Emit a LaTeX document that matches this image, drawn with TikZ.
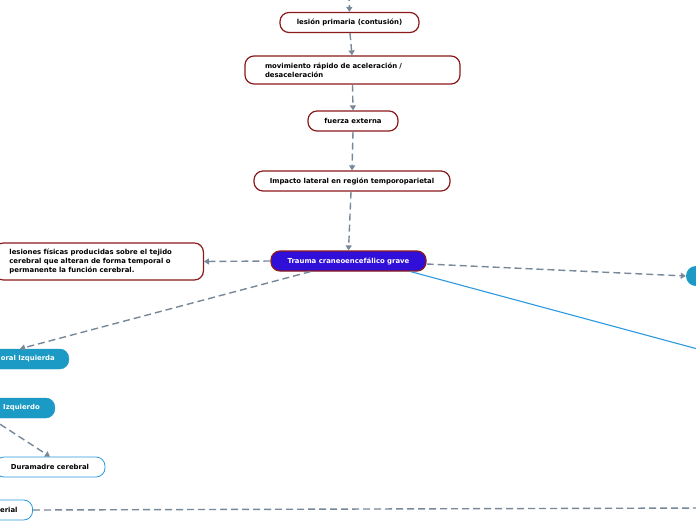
\documentclass[tikz,border=0pt]{standalone}
\usepackage{fontspec}
\setmainfont{DejaVu Sans}
\usetikzlibrary{arrows.meta,calc}
\definecolor{dred}{HTML}{8B1A1A}
\definecolor{tblue}{HTML}{3010D8}
\definecolor{teal2}{HTML}{1A9AC4}
\definecolor{lblue}{HTML}{2B9AE0}
\definecolor{cgray}{HTML}{778899}
\tikzset{
  redbox/.style={draw=dred, line width=1.2pt, rounded corners=9pt, fill=white, font=\fontsize{6.9}{9.2}\selectfont\bfseries, inner ysep=0pt, minimum height=20pt},
  bluebox/.style={redbox, fill=tblue, text=white},
  tealbox/.style={draw=teal2, fill=teal2, rounded corners=9pt, text=white, font=\fontsize{6.9}{9}\selectfont\bfseries, inner ysep=0pt, minimum height=20pt},
  wbox/.style={draw=lblue, line width=0.8pt, fill=white, rounded corners=9pt, font=\fontsize{6.9}{9}\selectfont\bfseries, inner ysep=0pt, minimum height=20pt},
  conn/.style={draw=cgray, line width=1.4pt, dash pattern=on 7pt off 4pt, -{Triangle[length=5pt,width=6pt]}},
  connn/.style={draw=cgray, line width=1.4pt, dash pattern=on 7pt off 4pt},
}
\begin{document}
\begin{tikzpicture}[x=1pt,y=-1pt]
\useasboundingbox (0,0) rectangle (696,520);
\fill[white] (0,0) rectangle (696,520);
\node[redbox, minimum width=139pt] (lesion) at (349.5,22.5) {lesión primaria (contusión)};
\node[redbox, minimum width=215pt, minimum height=28pt, text width=175pt, align=left, inner xsep=20pt] (mov) at (352.5,70) {movimiento rápido de aceleración /\\desaceleración};
\node[redbox, minimum width=90pt] (fuerza) at (353,121) {fuerza externa};
\node[redbox, minimum width=196pt] (impacto) at (352,181) {Impacto lateral en región temporoparietal};
\node[bluebox, minimum width=155pt] (trauma) at (348.5,261) {Trauma craneoencefálico grave};
\node[redbox, minimum height=37pt, text width=179pt, align=left, inner xsep=15pt, anchor=east] (lesiones) at (204,261.5) {lesiones físicas producidas sobre el tejido\\cerebral que alteran de forma temporal o\\permanente la función cerebral.};
\node[tealbox, text width=123pt, align=right, inner xsep=14pt, anchor=east] (oral) at (69,359) {oral Izquierda};
\node[tealbox, text width=98pt, align=right, inner xsep=15pt, anchor=east] (izq) at (55,408) {Izquierdo};
\node[wbox, minimum width=110pt] (dura) at (50,467) {Duramadre cerebral};
\node[wbox, text width=80pt, align=right, inner xsep=15pt, anchor=east] (erial) at (33,510) {erial};
\node[circle, fill=teal2, minimum size=20pt, inner sep=0pt] (circ) at (696,276) {};
\coordinate (top) at (349,-6);
\coordinate (rend) at (705,508);
\coordinate (bend) at (705,351);
\draw[conn] (top) -- (lesion.north);
\draw[conn] ($(lesion.south)+(0.5,0)$) -- ($(mov.north)+(-0.5,0)$);
\draw[conn] (mov.south) -- (fuerza.north);
\draw[conn] (fuerza.south) -- (impacto.north);
\draw[conn] ($(impacto.south)+(-1,0)$) -- (trauma.north);
\draw[conn] (trauma.west) -- (lesiones.east);
\draw[conn] ($(trauma.east)+(0,3)$) -- (circ.west);
\draw[conn] ($(trauma.south)+(-38,0)$) -- ($(oral.north east)+(-49,0)$);
\draw[conn] (izq.south) -- (dura.north);
\draw[connn] (erial.east) -- (rend);
\draw[draw=lblue, line width=1.1pt] ($(trauma.south east)+(-16,0)$) -- (bend);
\end{tikzpicture}
\end{document}
